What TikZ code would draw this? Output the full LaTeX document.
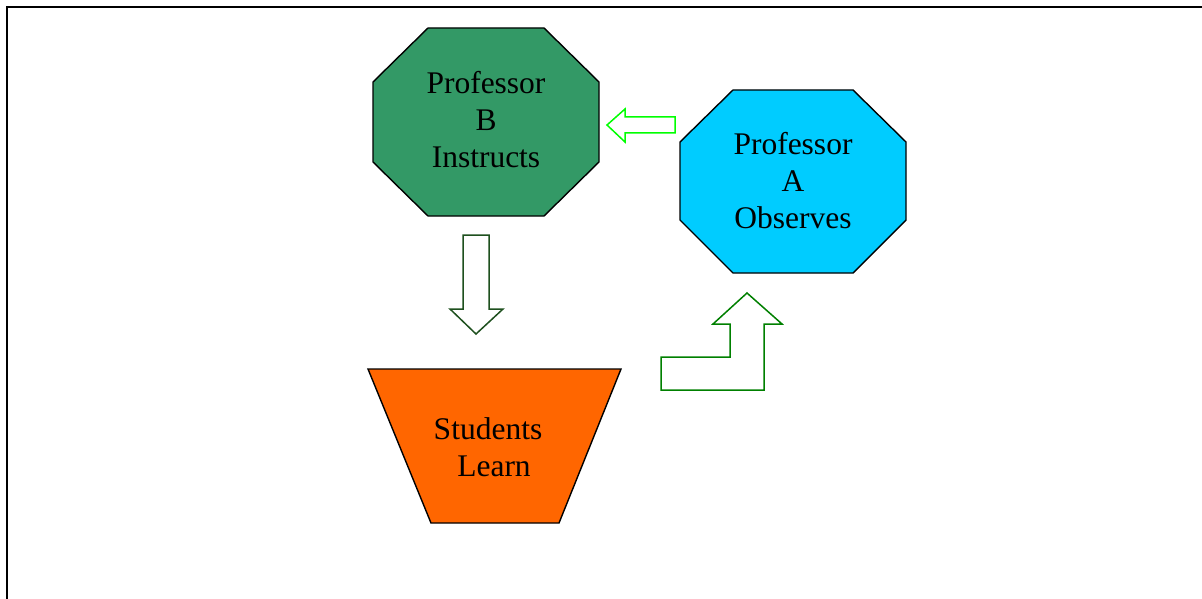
\documentclass[tikz,border=0pt]{standalone}
\usepackage{fontspec}
\setmainfont{Liberation Serif}
\definecolor{profB}{HTML}{339966}
\definecolor{profA}{HTML}{00CCFF}
\definecolor{stud}{HTML}{FF6600}
\definecolor{lime}{HTML}{00FF00}
\definecolor{darkgr}{HTML}{1E501E}
\definecolor{midgr}{HTML}{008000}
\begin{document}
\begin{tikzpicture}[x=1pt,y=-1pt,
  shapebox/.style={draw=black,line width=1.4pt},
  lbl/.style={align=center,font=\fontsize{31.5}{37}\selectfont,inner sep=0pt},
  blockarrow/.style={line width=1.5pt,fill=white,line join=miter}]
\useasboundingbox (0,0) rectangle (1202,599);
\fill[white] (0,0) rectangle (1202,599);
% frame
\draw[line width=2.2pt] (7,600) -- (7,7) -- (1203,7);
% Professor B octagon
\draw[shapebox,fill=profB] (428,28) -- (544,28) -- (599,82) -- (599,162) -- (544,216) -- (428,216) -- (373,162) -- (373,82) -- cycle;
\node[lbl] (B) at (486,120) {Professor\\B\\Instructs};
% Professor A octagon
\draw[shapebox,fill=profA] (733,90) -- (853,90) -- (906,142) -- (906,220) -- (853,273) -- (733,273) -- (680,220) -- (680,142) -- cycle;
\node[lbl] (A) at (793,181) {Professor\\A\\Observes};
% Students trapezoid
\draw[shapebox,fill=stud] (368,369) -- (621,369) -- (559,523) -- (431,523) -- cycle;
\node[lbl] (S) at (488,447.5) {Students\\\hspace*{12pt}Learn};
% left arrow A -> B
\draw[blockarrow,draw=lime] (675,117) -- (625,117) -- (625,109) -- (607,125) -- (625,142) -- (625,133) -- (675,133) -- cycle;
% down arrow B -> S
\draw[blockarrow,draw=darkgr] (463,235) -- (489,235) -- (489,309) -- (503,309) -- (476,334) -- (450,309) -- (463,309) -- cycle;
% bent arrow S -> A
\draw[blockarrow,draw=midgr] (661,357) -- (730,357) -- (730,324) -- (713,324) -- (747,293) -- (782,324) -- (764,324) -- (764,390) -- (661,390) -- cycle;
\end{tikzpicture}
\end{document}
